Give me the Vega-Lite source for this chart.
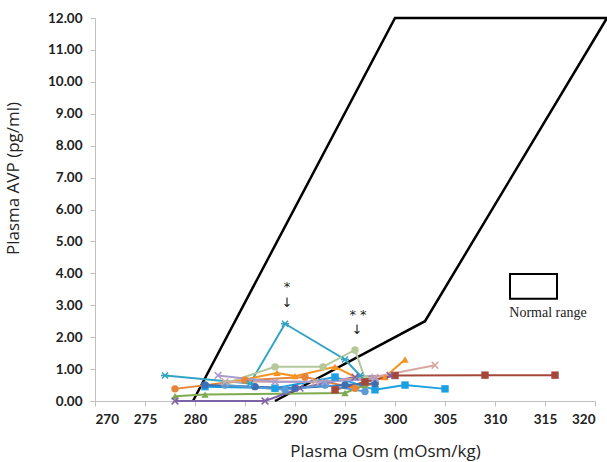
{
  "$schema": "https://vega.github.io/schema/vega-lite/v6.json",
  "width": 500,
  "height": 383,
  "autosize": {"type": "none"},
  "padding": {"left": 95, "top": 18, "right": 12, "bottom": 61},
  "background": "white",
  "config": {
    "view": {"stroke": null},
    "axis": {
      "domainColor": "#bfbfbf",
      "tickColor": "#bfbfbf",
      "grid": false,
      "labelFont": "Lato",
      "labelFontWeight": "bold",
      "labelFontSize": 13.5,
      "labelColor": "#222222",
      "labelOverlap": false,
      "titleFont": "Open Sans",
      "titleFontWeight": "normal",
      "titleFontSize": 17,
      "titleColor": "#222222",
      "tickSize": 5
    }
  },
  "datasets": {
    "series": [
      {"s": "A", "m": "star", "x": 277, "y": 0.8},
      {"s": "A", "m": "star", "x": 285.5, "y": 0.55},
      {"s": "A", "m": "star", "x": 289, "y": 2.42},
      {"s": "A", "m": "star", "x": 295, "y": 1.3},
      {"s": "A", "m": "star", "x": 296.5, "y": 0.8},
      {"s": "B", "m": "circle", "x": 278, "y": 0.38},
      {"s": "B", "m": "circle", "x": 285, "y": 0.65},
      {"s": "B", "m": "circle", "x": 291, "y": 0.75},
      {"s": "B", "m": "circle", "x": 296, "y": 0.4},
      {"s": "B", "m": "circle", "x": 298, "y": 0.55},
      {"s": "C", "m": "triangle", "x": 278, "y": 0.15},
      {"s": "C", "m": "triangle", "x": 281, "y": 0.2},
      {"s": "C", "m": "triangle", "x": 295, "y": 0.25},
      {"s": "C", "m": "triangle", "x": 297, "y": 0.5},
      {"s": "D", "m": "x", "x": 278, "y": 0.0},
      {"s": "D", "m": "x", "x": 287, "y": 0.0},
      {"s": "D", "m": "x", "x": 290.5, "y": 0.4},
      {"s": "D", "m": "x", "x": 296, "y": 0.75},
      {"s": "D", "m": "x", "x": 299.5, "y": 0.8},
      {"s": "E", "m": "circle", "x": 283, "y": 0.55},
      {"s": "E", "m": "circle", "x": 288, "y": 1.07},
      {"s": "E", "m": "circle", "x": 292.8, "y": 1.07},
      {"s": "E", "m": "circle", "x": 296, "y": 1.6},
      {"s": "E", "m": "circle", "x": 297, "y": 0.7},
      {"s": "F", "m": "triangle", "x": 283, "y": 0.55},
      {"s": "F", "m": "triangle", "x": 288.2, "y": 0.88},
      {"s": "F", "m": "triangle", "x": 290, "y": 0.78},
      {"s": "F", "m": "triangle", "x": 294, "y": 1.07},
      {"s": "F", "m": "triangle", "x": 297, "y": 0.6},
      {"s": "F", "m": "triangle", "x": 299, "y": 0.75},
      {"s": "F", "m": "triangle", "x": 301, "y": 1.3},
      {"s": "G", "m": "square", "x": 294, "y": 0.35},
      {"s": "G", "m": "square", "x": 297, "y": 0.6},
      {"s": "G", "m": "square", "x": 300, "y": 0.8},
      {"s": "G", "m": "square", "x": 309, "y": 0.81},
      {"s": "G", "m": "square", "x": 316, "y": 0.81},
      {"s": "H", "m": "square", "x": 281, "y": 0.45},
      {"s": "H", "m": "square", "x": 288, "y": 0.4},
      {"s": "H", "m": "square", "x": 294, "y": 0.75},
      {"s": "H", "m": "square", "x": 298, "y": 0.35},
      {"s": "H", "m": "square", "x": 301, "y": 0.5},
      {"s": "H", "m": "square", "x": 305, "y": 0.38},
      {"s": "I", "m": "x", "x": 283, "y": 0.6},
      {"s": "I", "m": "x", "x": 292, "y": 0.6},
      {"s": "I", "m": "x", "x": 298, "y": 0.75},
      {"s": "I", "m": "x", "x": 304, "y": 1.12},
      {"s": "J", "m": "x", "x": 282.3, "y": 0.8},
      {"s": "J", "m": "x", "x": 288, "y": 0.6},
      {"s": "J", "m": "x", "x": 293, "y": 0.6},
      {"s": "J", "m": "x", "x": 298, "y": 0.7},
      {"s": "K", "m": "circle", "x": 281, "y": 0.5},
      {"s": "K", "m": "circle", "x": 286, "y": 0.45},
      {"s": "K", "m": "circle", "x": 290, "y": 0.4},
      {"s": "K", "m": "circle", "x": 295, "y": 0.5},
      {"s": "K", "m": "circle", "x": 298, "y": 0.55},
      {"s": "L", "m": "circle", "x": 283, "y": 0.5},
      {"s": "L", "m": "circle", "x": 289, "y": 0.35},
      {"s": "L", "m": "circle", "x": 293, "y": 0.5},
      {"s": "L", "m": "circle", "x": 297, "y": 0.3}
    ],
    "normal": [
      {"o": 1, "x": 288, "y": 0},
      {"o": 2, "x": 303, "y": 2.5},
      {"o": 3, "x": 321.2, "y": 12},
      {"o": 4, "x": 300, "y": 12},
      {"o": 5, "x": 279.8, "y": 0}
    ]
  },
  "encoding": {
    "x": {
      "field": "x", "type": "quantitative",
      "scale": {"domain": [270, 320], "nice": false, "zero": false},
      "axis": {
        "values": [270, 275, 280, 285, 290, 295, 300, 305, 310, 315, 320],
        "tickCount": 20,
        "title": "Plasma Osm (mOsm/kg)",
        "labelPadding": 6,
        "titleX": 290,
        "titleY": 42,
        "titleAnchor": "middle"
      }
    },
    "y": {
      "field": "y", "type": "quantitative",
      "scale": {"domain": [0, 12], "nice": false},
      "axis": {
        "values": [0, 1, 2, 3, 4, 5, 6, 7, 8, 9, 10, 11, 12],
        "tickCount": 20,
        "format": ".2f",
        "title": "Plasma AVP (pg/ml)",
        "labelPadding": 8,
        "titleX": -73,
        "titleY": 160,
        "titleAnchor": "middle"
      }
    }
  },
  "layer": [
    {
      "data": {"name": "normal"},
      "mark": {"type": "line", "color": "#000000", "strokeWidth": 2.5},
      "encoding": {
        "order": {"field": "o"}
      }
    },
    {
      "data": {"name": "series"},
      "mark": {"type": "line", "strokeWidth": 2},
      "encoding": {
        "detail": {"field": "s"},
        "color": {
          "field": "s", "type": "nominal", "legend": null,
          "scale": {
            "domain": ["A", "B", "C", "D", "E", "F", "G", "H", "I", "J", "K", "L"],
            "range": ["#31A3C4", "#E8833A", "#7DAB4E", "#7F63A8", "#B4C89A", "#F7921E", "#A5483B", "#1BA1E2", "#D8A7A0", "#A99BCB", "#3C6EB4", "#5B9BD5"]
          }
        }
      }
    },
    {
      "data": {"name": "series"},
      "transform": [{"filter": "datum.m === 'circle' || datum.m === 'square' || datum.m === 'triangle'"}],
      "mark": {"type": "point", "filled": true, "opacity": 1, "size": 55},
      "encoding": {
        "color": {"field": "s", "type": "nominal", "legend": null},
        "shape": {
          "field": "m", "type": "nominal", "legend": null,
          "scale": {
            "domain": ["circle", "square", "triangle", "x", "star"],
            "range": ["circle", "square", "triangle-up", "M-1,-1L1,1M-1,1L1,-1", "M-0.9,-0.9L0.9,0.9M-0.9,0.9L0.9,-0.9M-1.2,0L1.2,0"]
          }
        }
      }
    },
    {
      "data": {"name": "series"},
      "transform": [{"filter": "datum.m === 'x' || datum.m === 'star'"}],
      "mark": {"type": "point", "filled": false, "opacity": 1, "size": 45, "strokeWidth": 1.5},
      "encoding": {
        "color": {"field": "s", "type": "nominal", "legend": null},
        "shape": {"field": "m", "type": "nominal", "legend": null}
      }
    },
    {
      "data": {"values": [{"x": 311.5, "x2": 316.2, "y": 3.2, "y2": 3.98}]},
      "mark": {"type": "rect", "fill": "white", "stroke": "#000000", "strokeWidth": 2},
      "encoding": {
        "x2": {"field": "x2"},
        "y2": {"field": "y2"}
      }
    },
    {
      "data": {"values": [{"x": 315.3, "y": 2.76, "t": "Normal range"}]},
      "mark": {"type": "text", "font": "Liberation Serif", "fontSize": 14, "color": "#222222", "align": "center", "baseline": "middle"},
      "encoding": {
        "text": {"field": "t"}
      }
    },
    {
      "data": {"values": [
        {"x": 289.2, "y": 3.57, "t": "*"},
        {"x": 289.2, "y": 3.07, "t": "↓"},
        {"x": 296.3, "y": 2.7, "t": "* *"},
        {"x": 296.2, "y": 2.23, "t": "↓"}
      ]},
      "mark": {"type": "text", "font": "DejaVu Sans", "fontSize": 13, "color": "#222222", "align": "center", "baseline": "middle"},
      "encoding": {
        "text": {"field": "t"}
      }
    }
  ]
}
